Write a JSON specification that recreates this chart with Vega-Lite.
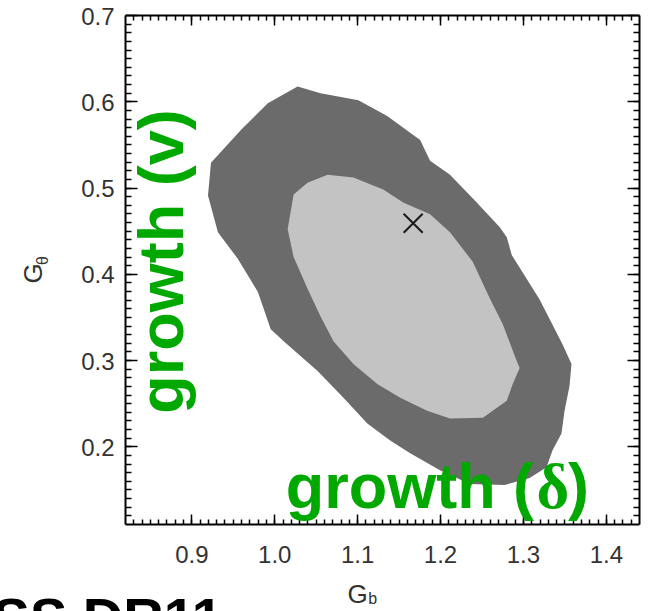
{
  "$schema": "https://vega.github.io/schema/vega-lite/v6.json",
  "width": 514,
  "height": 509,
  "autosize": {"type": "none"},
  "padding": {"left": 125, "top": 15, "right": 18, "bottom": 87},
  "background": "white",
  "config": {
    "view": {"stroke": null},
    "axis": {
      "grid": false,
      "domainColor": "black",
      "domainWidth": 2,
      "tickColor": "black",
      "tickWidth": 1.5,
      "labelFont": "Liberation Sans",
      "labelFontSize": 24,
      "labelColor": "#333333",
      "titleFont": "Liberation Sans",
      "titleFontWeight": "normal",
      "titleColor": "#333333",
      "titleFontSize": 26
    }
  },
  "datasets": {
    "outer": [
      {"i": 0, "x": 1.0282, "y": 0.6172},
      {"i": 1, "x": 1.0559, "y": 0.6092},
      {"i": 2, "x": 1.1015, "y": 0.6011},
      {"i": 3, "x": 1.1363, "y": 0.5828},
      {"i": 4, "x": 1.1760, "y": 0.5552},
      {"i": 5, "x": 1.1880, "y": 0.5310},
      {"i": 6, "x": 1.2120, "y": 0.5149},
      {"i": 7, "x": 1.2420, "y": 0.4851},
      {"i": 8, "x": 1.2721, "y": 0.4540},
      {"i": 9, "x": 1.2805, "y": 0.4425},
      {"i": 10, "x": 1.2865, "y": 0.4218},
      {"i": 11, "x": 1.3201, "y": 0.3701},
      {"i": 12, "x": 1.3477, "y": 0.3184},
      {"i": 13, "x": 1.3586, "y": 0.2954},
      {"i": 14, "x": 1.3562, "y": 0.2701},
      {"i": 15, "x": 1.3502, "y": 0.2414},
      {"i": 16, "x": 1.3465, "y": 0.2149},
      {"i": 17, "x": 1.3357, "y": 0.1954},
      {"i": 18, "x": 1.3285, "y": 0.1759},
      {"i": 19, "x": 1.3081, "y": 0.1632},
      {"i": 20, "x": 1.2781, "y": 0.1552},
      {"i": 21, "x": 1.2360, "y": 0.1563},
      {"i": 22, "x": 1.2000, "y": 0.1724},
      {"i": 23, "x": 1.1640, "y": 0.1920},
      {"i": 24, "x": 1.1399, "y": 0.2069},
      {"i": 25, "x": 1.1123, "y": 0.2264},
      {"i": 26, "x": 1.0835, "y": 0.2563},
      {"i": 27, "x": 1.0523, "y": 0.2874},
      {"i": 28, "x": 1.0114, "y": 0.3218},
      {"i": 29, "x": 0.9958, "y": 0.3356},
      {"i": 30, "x": 0.9802, "y": 0.3793},
      {"i": 31, "x": 0.9562, "y": 0.4172},
      {"i": 32, "x": 0.9321, "y": 0.4483},
      {"i": 33, "x": 0.9201, "y": 0.4908},
      {"i": 34, "x": 0.9237, "y": 0.5287},
      {"i": 35, "x": 0.9598, "y": 0.5667},
      {"i": 36, "x": 0.9922, "y": 0.5977}
    ],
    "inner": [
      {"i": 0, "x": 1.0643, "y": 0.5149},
      {"i": 1, "x": 1.0955, "y": 0.5115},
      {"i": 2, "x": 1.1315, "y": 0.4977},
      {"i": 3, "x": 1.1556, "y": 0.4828},
      {"i": 4, "x": 1.1880, "y": 0.4690},
      {"i": 5, "x": 1.2120, "y": 0.4483},
      {"i": 6, "x": 1.2396, "y": 0.4138},
      {"i": 7, "x": 1.2601, "y": 0.3713},
      {"i": 8, "x": 1.2757, "y": 0.3414},
      {"i": 9, "x": 1.2925, "y": 0.2989},
      {"i": 10, "x": 1.2961, "y": 0.2908},
      {"i": 11, "x": 1.2877, "y": 0.2724},
      {"i": 12, "x": 1.2805, "y": 0.2529},
      {"i": 13, "x": 1.2517, "y": 0.2333},
      {"i": 14, "x": 1.2120, "y": 0.2322},
      {"i": 15, "x": 1.1844, "y": 0.2414},
      {"i": 16, "x": 1.1520, "y": 0.2563},
      {"i": 17, "x": 1.1243, "y": 0.2724},
      {"i": 18, "x": 1.0955, "y": 0.2954},
      {"i": 19, "x": 1.0715, "y": 0.3218},
      {"i": 20, "x": 1.0559, "y": 0.3506},
      {"i": 21, "x": 1.0402, "y": 0.3828},
      {"i": 22, "x": 1.0234, "y": 0.4195},
      {"i": 23, "x": 1.0162, "y": 0.4517},
      {"i": 24, "x": 1.0234, "y": 0.4920},
      {"i": 25, "x": 1.0402, "y": 0.5057}
    ],
    "best": [{"x": 1.1676, "y": 0.4586}],
    "labels_sans": [
      {"x": 1.0138, "y": 0.1287, "angle": 0, "text": "growth ("},
      {"x": 1.3545, "y": 0.1287, "angle": 0, "text": ")"},
      {"x": 0.8901, "y": 0.2379, "angle": 270, "text": "growth (v)"}
    ],
    "labels_serif": [
      {"x": 1.3165, "y": 0.1287, "text": "δ"}
    ],
    "subscripts": [
      {"x": 1.1135, "y": 0.0172, "angle": 0, "text": "b"},
      {"x": 0.7267, "y": 0.4103, "angle": 270, "text": "θ"}
    ],
    "caption": [{"x": 0.9381, "y": -0.0207, "text": "BOSS DR11"}]
  },
  "resolve": {"axis": {"x": "independent", "y": "independent"}},
  "layer": [
    {
      "data": {"name": "outer"},
      "mark": {"type": "line", "interpolate": "linear-closed", "filled": true, "color": "#6b6b6b"},
      "encoding": {
        "x": {"field": "x", "type": "quantitative",
          "scale": {"domain": [0.82, 1.44], "nice": false, "zero": false},
          "axis": {"orient": "bottom", "values": [0.9, 1.0, 1.1, 1.2, 1.3, 1.4], "format": ".1f",
            "tickSize": -10, "labelPadding": 29, "title": "G",
            "titleAlign": "center", "titleBaseline": "alphabetic", "titleX": 232, "titleY": 78}},
        "y": {"field": "y", "type": "quantitative",
          "scale": {"domain": [0.11, 0.7], "nice": false, "zero": false},
          "axis": {"orient": "left", "values": [0.2, 0.3, 0.4, 0.5, 0.6, 0.7], "format": ".1f",
            "tickSize": -12, "labelPadding": 23, "labelOffset": 2, "title": "G",
            "titleAngle": 270, "titleAlign": "center", "titleBaseline": "alphabetic", "titleX": -84, "titleY": 258}},
        "order": {"field": "i", "type": "quantitative"}
      }
    },
    {
      "data": {"name": "inner"},
      "mark": {"type": "line", "interpolate": "linear-closed", "filled": true, "color": "#c3c3c3"},
      "encoding": {
        "x": {"field": "x", "type": "quantitative",
          "axis": {"orient": "bottom", "values": [0.83,0.84,0.85,0.86,0.87,0.88,0.89,0.9,0.91,0.92,0.93,0.94,0.95,0.96,0.97,0.98,0.99,1.0,1.01,1.02,1.03,1.04,1.05,1.06,1.07,1.08,1.09,1.1,1.11,1.12,1.13,1.14,1.15,1.16,1.17,1.18,1.19,1.2,1.21,1.22,1.23,1.24,1.25,1.26,1.27,1.28,1.29,1.3,1.31,1.32,1.33,1.34,1.35,1.36,1.37,1.38,1.39,1.4,1.41,1.42,1.43],
            "tickSize": -5, "labels": false, "domain": false, "title": null}},
        "y": {"field": "y", "type": "quantitative",
          "axis": {"orient": "left", "values": [0.12,0.13,0.14,0.15,0.16,0.17,0.18,0.19,0.2,0.21,0.22,0.23,0.24,0.25,0.26,0.27,0.28,0.29,0.3,0.31,0.32,0.33,0.34,0.35,0.36,0.37,0.38,0.39,0.4,0.41,0.42,0.43,0.44,0.45,0.46,0.47,0.48,0.49,0.5,0.51,0.52,0.53,0.54,0.55,0.56,0.57,0.58,0.59,0.6,0.61,0.62,0.63,0.64,0.65,0.66,0.67,0.68,0.69],
            "tickSize": -6, "labels": false, "domain": false, "title": null}},
        "order": {"field": "i", "type": "quantitative"}
      }
    },
    {
      "data": {"name": "best"},
      "mark": {"type": "point", "shape": "M-1,-1L1,1M-1,1L1,-1", "size": 361, "filled": false, "stroke": "#1a1a1a", "strokeWidth": 2, "opacity": 1},
      "encoding": {
        "x": {"field": "x", "type": "quantitative",
          "axis": {"orient": "top", "values": [0.9, 1.0, 1.1, 1.2, 1.3, 1.4], "tickSize": -10, "labels": false, "title": null}},
        "y": {"field": "y", "type": "quantitative",
          "axis": {"orient": "right", "values": [0.2, 0.3, 0.4, 0.5, 0.6, 0.7], "tickSize": -12, "labels": false, "title": null}}
      }
    },
    {
      "data": {"name": "labels_sans"},
      "mark": {"type": "text", "font": "Liberation Sans", "fontWeight": "bold", "fontSize": 63, "color": "#00a800", "align": "left", "baseline": "alphabetic"},
      "encoding": {
        "x": {"field": "x", "type": "quantitative",
          "axis": {"orient": "top", "values": [0.83,0.84,0.85,0.86,0.87,0.88,0.89,0.9,0.91,0.92,0.93,0.94,0.95,0.96,0.97,0.98,0.99,1.0,1.01,1.02,1.03,1.04,1.05,1.06,1.07,1.08,1.09,1.1,1.11,1.12,1.13,1.14,1.15,1.16,1.17,1.18,1.19,1.2,1.21,1.22,1.23,1.24,1.25,1.26,1.27,1.28,1.29,1.3,1.31,1.32,1.33,1.34,1.35,1.36,1.37,1.38,1.39,1.4,1.41,1.42,1.43],
            "tickSize": -5, "labels": false, "domain": false, "title": null}},
        "y": {"field": "y", "type": "quantitative",
          "axis": {"orient": "right", "values": [0.12,0.13,0.14,0.15,0.16,0.17,0.18,0.19,0.2,0.21,0.22,0.23,0.24,0.25,0.26,0.27,0.28,0.29,0.3,0.31,0.32,0.33,0.34,0.35,0.36,0.37,0.38,0.39,0.4,0.41,0.42,0.43,0.44,0.45,0.46,0.47,0.48,0.49,0.5,0.51,0.52,0.53,0.54,0.55,0.56,0.57,0.58,0.59,0.6,0.61,0.62,0.63,0.64,0.65,0.66,0.67,0.68,0.69],
            "tickSize": -6, "labels": false, "domain": false, "title": null}},
        "angle": {"field": "angle", "type": "quantitative", "scale": null},
        "text": {"field": "text"}
      }
    },
    {
      "data": {"name": "labels_serif"},
      "mark": {"type": "text", "font": "Liberation Serif", "fontWeight": "bold", "fontSize": 63, "color": "#00a800", "align": "left", "baseline": "alphabetic"},
      "encoding": {
        "x": {"field": "x", "type": "quantitative", "axis": null},
        "y": {"field": "y", "type": "quantitative", "axis": null},
        "text": {"field": "text"}
      }
    },
    {
      "data": {"name": "subscripts"},
      "mark": {"type": "text", "font": "Liberation Sans", "fontSize": 16, "color": "#333333", "align": "left", "baseline": "alphabetic"},
      "encoding": {
        "x": {"field": "x", "type": "quantitative", "axis": null},
        "y": {"field": "y", "type": "quantitative", "axis": null},
        "angle": {"field": "angle", "type": "quantitative", "scale": null},
        "text": {"field": "text"}
      }
    },
    {
      "data": {"name": "caption"},
      "mark": {"type": "text", "font": "Liberation Sans", "fontWeight": "bold", "fontSize": 56, "color": "black", "align": "right", "baseline": "alphabetic"},
      "encoding": {
        "x": {"field": "x", "type": "quantitative", "axis": null},
        "y": {"field": "y", "type": "quantitative", "axis": null},
        "text": {"field": "text"}
      }
    }
  ]
}
